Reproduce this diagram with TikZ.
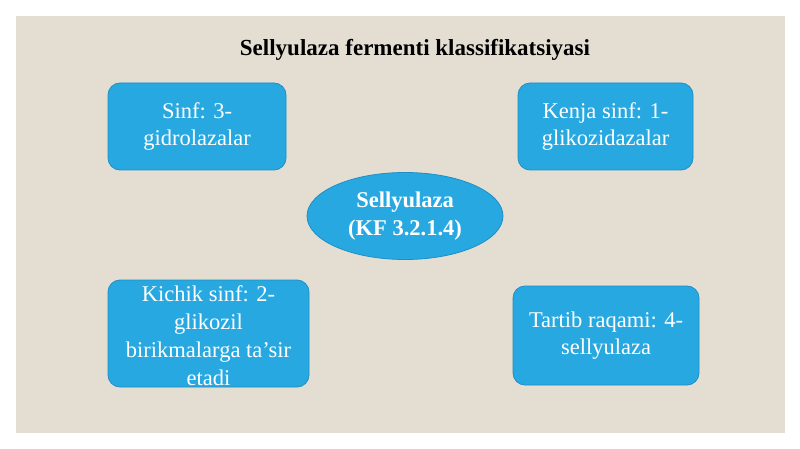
\documentclass[tikz,border=0pt]{standalone}
\usepackage{fontspec}
\setmainfont{Liberation Serif}
\usetikzlibrary{shapes.geometric}
\definecolor{bgbeige}{HTML}{E3DED1}
\definecolor{boxblue}{HTML}{28A8E0}
\definecolor{boxedge}{HTML}{1E8FC6}
\tikzset{
  infobox/.style={draw=boxedge, line width=0.8pt, fill=boxblue, rounded corners=12pt, text=white, align=center,
    font=\fontsize{22.5}{27.5}\selectfont, inner sep=0pt},
  centre/.style={ellipse, draw=boxedge, line width=0.8pt, fill=boxblue, text=white, align=center,
    font=\bfseries\fontsize{22.5}{28}\selectfont, inner sep=0pt},
}
\begin{document}
\begin{tikzpicture}[x=1pt,y=-1pt]
\useasboundingbox (0,0) rectangle (800,449);
\fill[white] (0,0) rectangle (800,449);
\fill[bgbeige] (16,16) rectangle (785,433);
\node[font=\bfseries\fontsize{23}{27}\selectfont] (title) at (415,50) {Sellyulaza fermenti klassifikatsiyasi};
\node[infobox, minimum width=178pt, minimum height=87pt] (sinf) at (197,126.5) {Sinf: 3-\\gidrolazalar};
\node[infobox, minimum width=175pt, minimum height=87pt] (kenja) at (605.5,126.5) {Kenja sinf: 1-\\glikozidazalar};
\node[infobox, minimum width=201pt, minimum height=107pt] (kichik) at (208.5,333.5) {};
\node[text=white, align=center, font=\fontsize{22.5}{28}\selectfont] (kichiktext) at (208.5,336) {Kichik sinf: 2-\\glikozil\\birikmalarga ta’sir\\etadi};
\node[infobox, minimum width=186pt, minimum height=99pt] (tartib) at (606,335.5) {Tartib raqami: 4-\\sellyulaza};
\node[centre, minimum width=196pt, minimum height=87pt] (cell) at (405,216) {Sellyulaza\\(KF 3.2.1.4)};
\end{tikzpicture}
\end{document}
